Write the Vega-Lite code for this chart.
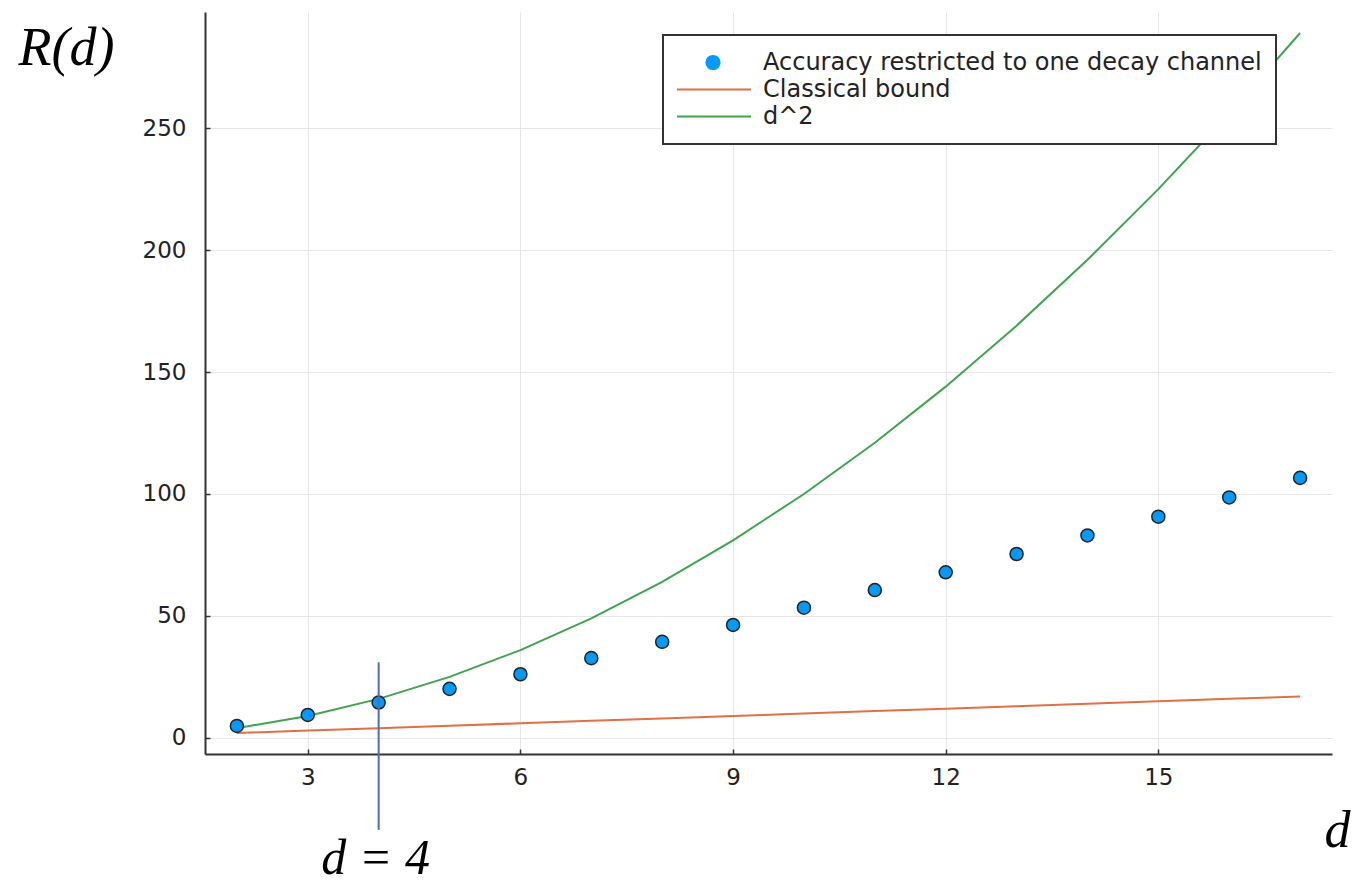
{
  "$schema": "https://vega.github.io/schema/vega-lite/v6.json",
  "width": 1127,
  "height": 742,
  "autosize": {"type": "none"},
  "padding": {"left": 205, "top": 12, "right": 20, "bottom": 132},
  "background": "white",
  "config": {
    "view": {"stroke": null},
    "axis": {
      "labelFont": "DejaVu Sans",
      "labelFontSize": 23,
      "labelColor": "#222",
      "domainColor": "#333",
      "domainWidth": 2,
      "tickColor": "#333",
      "tickWidth": 1.5,
      "tickSize": -5,
      "gridColor": "#e6e6e6",
      "gridWidth": 1
    }
  },
  "datasets": {
    "main": [
      {"d": 2, "value": 4.9, "series": "Accuracy restricted to one decay channel"},
      {"d": 3, "value": 9.4, "series": "Accuracy restricted to one decay channel"},
      {"d": 4, "value": 14.5, "series": "Accuracy restricted to one decay channel"},
      {"d": 5, "value": 20.1, "series": "Accuracy restricted to one decay channel"},
      {"d": 6, "value": 26.1, "series": "Accuracy restricted to one decay channel"},
      {"d": 7, "value": 32.7, "series": "Accuracy restricted to one decay channel"},
      {"d": 8, "value": 39.4, "series": "Accuracy restricted to one decay channel"},
      {"d": 9, "value": 46.3, "series": "Accuracy restricted to one decay channel"},
      {"d": 10, "value": 53.4, "series": "Accuracy restricted to one decay channel"},
      {"d": 11, "value": 60.6, "series": "Accuracy restricted to one decay channel"},
      {"d": 12, "value": 67.9, "series": "Accuracy restricted to one decay channel"},
      {"d": 13, "value": 75.4, "series": "Accuracy restricted to one decay channel"},
      {"d": 14, "value": 83.0, "series": "Accuracy restricted to one decay channel"},
      {"d": 15, "value": 90.7, "series": "Accuracy restricted to one decay channel"},
      {"d": 16, "value": 98.6, "series": "Accuracy restricted to one decay channel"},
      {"d": 17, "value": 106.6, "series": "Accuracy restricted to one decay channel"},
      {"d": 2, "value": 2, "series": "Classical bound"},
      {"d": 3, "value": 3, "series": "Classical bound"},
      {"d": 4, "value": 4, "series": "Classical bound"},
      {"d": 5, "value": 5, "series": "Classical bound"},
      {"d": 6, "value": 6, "series": "Classical bound"},
      {"d": 7, "value": 7, "series": "Classical bound"},
      {"d": 8, "value": 8, "series": "Classical bound"},
      {"d": 9, "value": 9, "series": "Classical bound"},
      {"d": 10, "value": 10, "series": "Classical bound"},
      {"d": 11, "value": 11, "series": "Classical bound"},
      {"d": 12, "value": 12, "series": "Classical bound"},
      {"d": 13, "value": 13, "series": "Classical bound"},
      {"d": 14, "value": 14, "series": "Classical bound"},
      {"d": 15, "value": 15, "series": "Classical bound"},
      {"d": 16, "value": 16, "series": "Classical bound"},
      {"d": 17, "value": 17, "series": "Classical bound"},
      {"d": 2, "value": 4, "series": "d^2"},
      {"d": 3, "value": 9, "series": "d^2"},
      {"d": 4, "value": 16, "series": "d^2"},
      {"d": 5, "value": 25, "series": "d^2"},
      {"d": 6, "value": 36, "series": "d^2"},
      {"d": 7, "value": 49, "series": "d^2"},
      {"d": 8, "value": 64, "series": "d^2"},
      {"d": 9, "value": 81, "series": "d^2"},
      {"d": 10, "value": 100, "series": "d^2"},
      {"d": 11, "value": 121, "series": "d^2"},
      {"d": 12, "value": 144, "series": "d^2"},
      {"d": 13, "value": 169, "series": "d^2"},
      {"d": 14, "value": 196, "series": "d^2"},
      {"d": 15, "value": 225, "series": "d^2"},
      {"d": 16, "value": 256, "series": "d^2"},
      {"d": 17, "value": 289, "series": "d^2"}
    ],
    "marker": [
      {"d": 4, "top": 31, "bottom": -37.7, "label": "d = 4", "labelY": -56}
    ]
  },
  "layer": [
    {
      "data": {"name": "main"},
      "transform": [{"filter": "datum.series !== 'Accuracy restricted to one decay channel'"}],
      "mark": {"type": "line", "strokeWidth": 2, "clip": true},
      "encoding": {
        "x": {
          "field": "d", "type": "quantitative",
          "scale": {"domain": [1.55, 17.45], "nice": false, "zero": false},
          "axis": {
            "values": [3, 6, 9, 12, 15],
            "format": "d",
            "title": "d",
            "titleFont": "Liberation Serif",
            "titleFontStyle": "italic",
            "titleFontWeight": "normal",
            "titleFontSize": 52,
            "titleColor": "#000",
            "titleX": 1132,
            "titleY": 92,
            "titleAlign": "center",
            "titleBaseline": "alphabetic",
            "labelPadding": 17,
            "grid": true
          }
        },
        "y": {
          "field": "value", "type": "quantitative",
          "scale": {"domain": [-6.6, 297.6], "nice": false, "zero": false},
          "axis": {
            "values": [0, 50, 100, 150, 200, 250],
            "format": "d",
            "title": "R(d)",
            "titleFont": "Liberation Serif",
            "titleFontStyle": "italic",
            "titleFontWeight": "normal",
            "titleFontSize": 54,
            "titleColor": "#000",
            "titleAngle": 0,
            "titleX": -139,
            "titleY": 52,
            "titleAlign": "center",
            "titleBaseline": "alphabetic",
            "labelPadding": 24,
            "grid": true
          }
        },
        "color": {
          "field": "series", "type": "nominal",
          "scale": {
            "domain": ["Accuracy restricted to one decay channel", "Classical bound", "d^2"],
            "range": ["#009AFA", "#E36F47", "#3EA44E"]
          },
          "legend": {
            "title": null,
            "orient": "none",
            "legendX": 458,
            "legendY": 23,
            "columns": 1,
            "fillColor": "white",
            "strokeColor": "#333",
            "padding": 14,
            "labelFont": "DejaVu Sans",
            "labelFontSize": 24,
            "labelColor": "#222",
            "labelLimit": 0,
            "labelOffset": 38,
            "symbolOffset": 24,
            "clipHeight": 27,
            "rowPadding": 0,
            "symbolSize": 5776,
            "symbolStrokeWidth": 2,
            "values": ["Accuracy restricted to one decay channel", "Classical bound", "d^2"],
            "encode": {
              "legend": {"update": {"strokeWidth": {"value": 2}}},
              "symbols": {
                "update": {
                  "shape": {"signal": "datum.value === 'Accuracy restricted to one decay channel' ? 'circle' : 'stroke'"},
                  "size": {"signal": "datum.value === 'Accuracy restricted to one decay channel' ? 180 : 5776"},
                  "fill": {"signal": "datum.value === 'Accuracy restricted to one decay channel' ? '#009AFA' : 'transparent'"},
                  "stroke": {"signal": "datum.value === 'Accuracy restricted to one decay channel' ? '#111' : scale('color', datum.value)"},
                  "strokeWidth": {"signal": "datum.value === 'Accuracy restricted to one decay channel' ? 1.8 : 2"},
                  "opacity": {"value": 1}
                }
              }
            }
          }
        }
      }
    },
    {
      "data": {"name": "main"},
      "transform": [{"filter": "datum.series === 'Accuracy restricted to one decay channel'"}],
      "mark": {"type": "point", "filled": true, "opacity": 1, "size": 170, "stroke": "#222", "strokeWidth": 1.5},
      "encoding": {
        "x": {"field": "d", "type": "quantitative"},
        "y": {"field": "value", "type": "quantitative"},
        "color": {"field": "series", "type": "nominal"}
      }
    },
    {
      "data": {"name": "marker"},
      "mark": {"type": "rule", "color": "#4f6bb8", "strokeWidth": 2},
      "encoding": {
        "x": {"field": "d", "type": "quantitative"},
        "y": {"field": "top", "type": "quantitative"},
        "y2": {"field": "bottom"}
      }
    },
    {
      "data": {"name": "marker"},
      "mark": {"type": "text", "font": "Liberation Serif", "fontStyle": "italic", "fontSize": 50, "align": "center", "baseline": "alphabetic", "color": "#000", "dx": -3},
      "encoding": {
        "x": {"field": "d", "type": "quantitative"},
        "y": {"field": "labelY", "type": "quantitative"},
        "text": {"field": "label"}
      }
    }
  ]
}
